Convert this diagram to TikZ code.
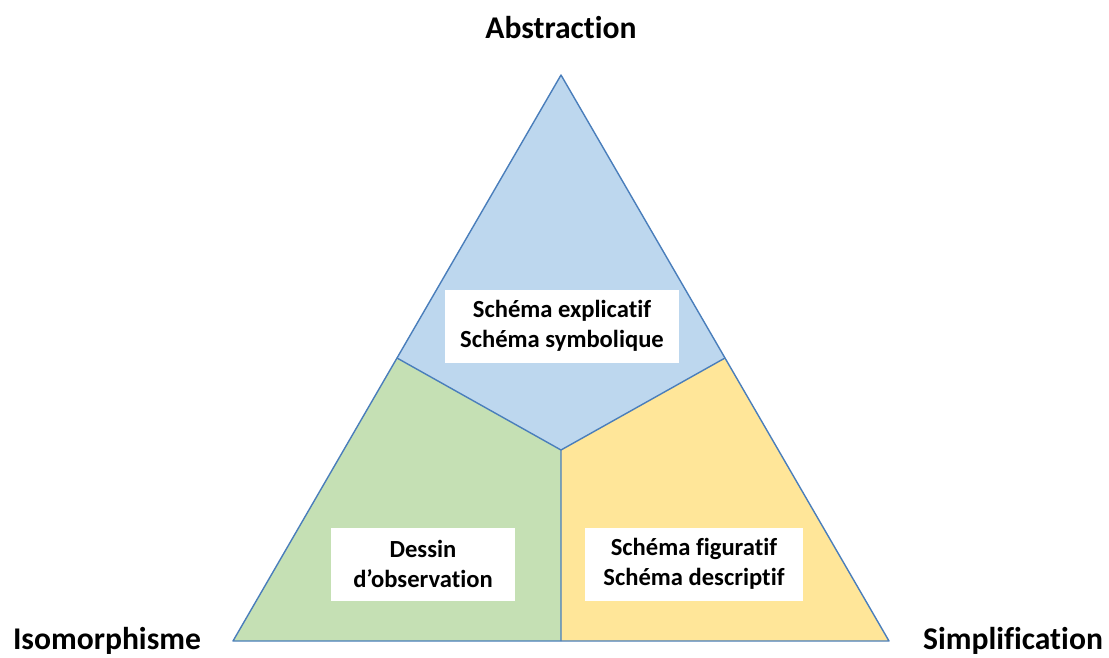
\documentclass[tikz,border=0pt]{standalone}
\usepackage{fontspec}
\setmainfont[Ligatures=NoCommon]{Carlito}
\usepackage{tikz}

\definecolor{zoneblue}{HTML}{BDD7EE}
\definecolor{zonegreen}{HTML}{C5E0B4}
\definecolor{zoneyellow}{HTML}{FFE699}
\definecolor{edgeblue}{HTML}{4A7EBB}

\begin{document}
\begin{tikzpicture}[x=0.02cm,y=-0.02cm,
    edge/.style={draw=edgeblue,line width=0.8pt,line join=round},
    corner/.style={font=\fontsize{18}{22}\selectfont\bfseries,inner sep=0},
    typebox/.style={fill=white,align=center,inner sep=0,minimum height=1.46cm,
      font=\fontsize{14}{17}\selectfont\bfseries}]
        \useasboundingbox (0,0) rectangle (1109,657);
        \coordinate (A) at (561,75);
        \coordinate (B) at (233,641);
        \coordinate (C) at (889,641);
        \coordinate (O) at (561,450);
        \coordinate (AB) at (397,358);
        \coordinate (AC) at (725,358);
        \coordinate (BC) at (561,641);
        \fill[zoneblue] (A) -- (AC) -- (O) -- (AB) -- cycle;
        \fill[zonegreen] (AB) -- (O) -- (BC) -- (B) -- cycle;
        \fill[zoneyellow] (O) -- (AC) -- (C) -- (BC) -- cycle;
        \draw[edge] (A) -- (B) -- (C) -- cycle;
        \draw[edge] (AB) -- (O) (AC) -- (O) (O) -- (BC);
        \node[corner] (abstr) at (561,28) {Abstraction};
        \node[corner] (iso) at (107,641) {Isomorphisme};
        \node[corner] (simpl) at (1013,641) {Simplification};
        \node[typebox,minimum width=4.7cm] (expl) at (562,326) {Schéma explicatif\\Schéma symbolique};
        \node[typebox,minimum width=3.7cm] (obs) at (423,564) {Dessin\\d’observation};
        \node[typebox,minimum width=4.36cm] (fig) at (694,564) {Schéma figuratif\\Schéma descriptif};
      \end{tikzpicture}
\end{document}
